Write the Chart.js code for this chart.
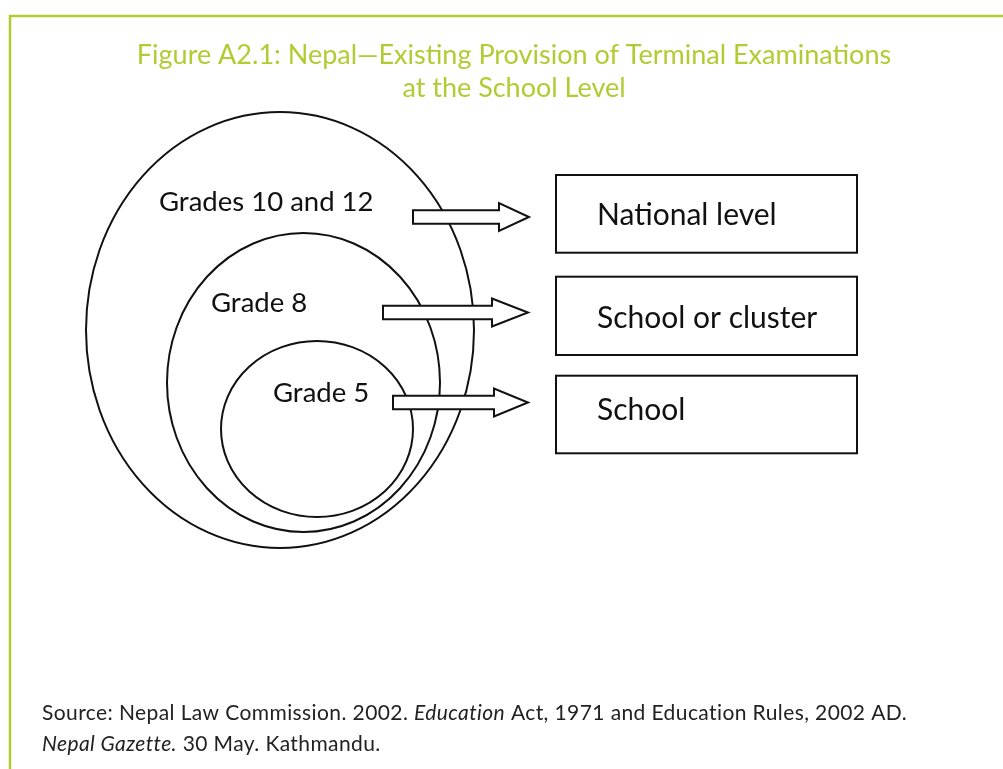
<!DOCTYPE html>
<html>
<head>
<meta charset="utf-8">
<script src="https://cdn.jsdelivr.net/npm/chart.js@4/dist/chart.umd.min.js"></script>
<style>
  html, body { margin: 0; padding: 0; background: #fff; }
  #wrap { width: 1003px; height: 769px; }
</style>
</head>
<body>
<div id="wrap"><canvas id="diagram" width="1003" height="769"></canvas></div>
<script>
// diagram content, in diagram units (x 0..1003, y 0..769 from top)
const titleLines = ["Figure A2.1: Nepal\u2014Existing Provision of Terminal Examinations", "at the School Level"];
const gradeLabels = ["Grades 10 and 12", "Grade 8", "Grade 5"];
const levelLabels = ["National level", "School or cluster", "School"];
const sourceLines = [
  [["Source: Nepal Law Commission. 2002. ", false], ["Education", true], [" Act, 1971 and Education Rules, 2002 AD.", false]],
  [["Nepal Gazette.", true], [" 30 May. Kathmandu.", false]]
];

// nested rings (outer to inner)
const ringCx = [280, 303.5, 317];
const ringCy = [330, 382.5, 429];
const ringRx = [194, 136.5, 96];
const ringRy = [218, 149.5, 88];
const gradeX = [159, 211, 273];
const gradeY = [211, 312, 402];

// arrows from rings to levels
const arrowStart = [413, 383, 393];
const arrowHead = [499, 492, 494];
const arrowTip = [529, 528, 528];
const arrowY = [217, 312.5, 402.5];

// level boxes
const boxLeft = [556, 556, 556];
const boxRight = [857, 857, 857];
const boxTop = [175, 276.7, 375.7];
const boxBottom = [252.7, 355, 453.3];
const levelX = [597, 597, 597];
const levelY = [225, 328, 420];

const lime = "#b3cb33";
const ink = "#111";

const diagramPlugin = {
  id: "diagram",
  afterDraw(chart) {
    const ctx = chart.ctx;
    const xs = chart.scales.x, ys = chart.scales.y;
    const px = v => xs.getPixelForValue(v);
    const py = v => ys.getPixelForValue(v);
    ctx.save();

    // frame
    ctx.strokeStyle = lime;
    ctx.lineWidth = 2.5;
    ctx.beginPath();
    ctx.moveTo(px(10), py(769));
    ctx.lineTo(px(10), py(16));
    ctx.lineTo(px(1003), py(16));
    ctx.stroke();

    // title
    ctx.fillStyle = lime;
    ctx.font = "27px Lato";
    ctx.textAlign = "center";
    ctx.textBaseline = "alphabetic";
    titleLines.forEach((t, i) => ctx.fillText(t, px(514), py(64 + i * 33)));

    // rings
    ctx.strokeStyle = ink;
    ctx.lineWidth = 2;
    ringCx.forEach((cx, i) => {
      ctx.beginPath();
      ctx.ellipse(px(cx), py(ringCy[i]), px(cx + ringRx[i]) - px(cx),
        Math.abs(py(ringCy[i] + ringRy[i]) - py(ringCy[i])), 0, 0, Math.PI * 2);
      ctx.stroke();
    });

    ctx.fillStyle = ink;
    ctx.textAlign = "left";
    ctx.font = "27.5px Lato";
    gradeLabels.forEach((t, i) => ctx.fillText(t, px(gradeX[i]), py(gradeY[i])));

    // arrows
    arrowStart.forEach((x0, i) => {
      const y = arrowY[i];
      ctx.beginPath();
      ctx.moveTo(px(x0), py(y - 6.7));
      ctx.lineTo(px(arrowHead[i]), py(y - 6.7));
      ctx.lineTo(px(arrowHead[i]), py(y - 14));
      ctx.lineTo(px(arrowTip[i]), py(y));
      ctx.lineTo(px(arrowHead[i]), py(y + 14));
      ctx.lineTo(px(arrowHead[i]), py(y + 6.7));
      ctx.lineTo(px(x0), py(y + 6.7));
      ctx.closePath();
      ctx.fillStyle = "#fff";
      ctx.fill();
      ctx.stroke();
    });

    // boxes
    ctx.fillStyle = ink;
    ctx.font = "30px Lato";
    boxLeft.forEach((x0, i) => {
      ctx.strokeRect(px(x0), py(boxTop[i]), px(boxRight[i]) - px(x0), py(boxBottom[i]) - py(boxTop[i]));
      ctx.fillText(levelLabels[i], px(levelX[i]), py(levelY[i]));
    });

    // source note
    ctx.fillStyle = "#222";
    ctx.letterSpacing = "0.4px";
    sourceLines.forEach((segs, i) => {
      let x = px(42);
      segs.forEach(([t, it]) => {
        ctx.font = (it ? "italic " : "") + "21px Lato";
        ctx.fillText(t, x, py(720 + i * 31));
        x += ctx.measureText(t).width;
      });
    });
    ctx.restore();
  }
};

new Chart(document.getElementById("diagram"), {
  type: "scatter",
  data: {
    datasets: [{
      label: "rings",
      data: ringCx.map((x, i) => ({ x: x, y: ringCy[i] })),
      pointRadius: 0
    }]
  },
  options: {
    responsive: false,
    animation: false,
    layout: { padding: 0 },
    plugins: { legend: { display: false }, tooltip: { enabled: false }, title: { display: false } },
    scales: {
      x: { type: "linear", min: 0, max: 1003, display: false },
      y: { type: "linear", min: 0, max: 769, reverse: true, display: false }
    }
  },
  plugins: [diagramPlugin]
});
</script>
</body>
</html>
